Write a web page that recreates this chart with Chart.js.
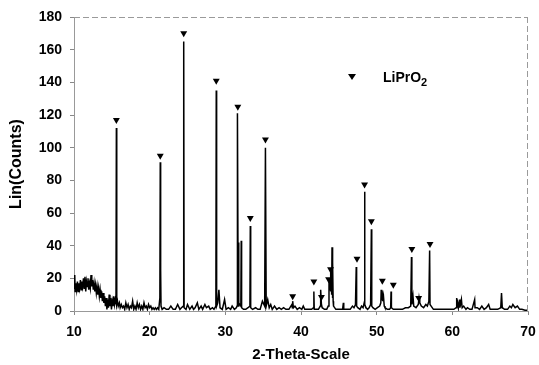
<!DOCTYPE html>
<html>
<head>
<meta charset="utf-8">
<script src="https://cdn.jsdelivr.net/npm/chart.js@4.4.1/dist/chart.umd.min.js"></script>
<style>
  body { margin: 0; background: #fff; }
  #wrap { width: 539px; height: 365px; position: relative; }
</style>
</head>
<body>
<div id="wrap"><canvas id="xrdChart"></canvas></div>
<script>
// XRD pattern (2-theta in degrees, Lin counts)
const twoTheta = [
  10.0, 10.1, 10.15, 10.25, 10.35, 10.45, 10.55, 10.65, 10.75, 10.85, 10.95, 11.05, 11.15, 11.25, 11.35, 11.45,
  11.55, 11.65, 11.75, 11.85, 11.95, 12.05, 12.15, 12.25, 12.35, 12.45, 12.55, 12.65, 12.75, 12.85, 12.95, 13.05,
  13.15, 13.25, 13.35, 13.45, 13.55, 13.65, 13.75, 13.85, 13.95, 14.05, 14.15, 14.25, 14.35, 14.45, 14.55, 14.65,
  14.75, 14.85, 14.95, 15.05, 15.15, 15.25, 15.35, 15.45, 15.55, 15.6, 15.65, 15.75, 15.85, 16.0, 16.1, 16.25,
  16.4, 16.55, 16.7, 16.85, 17.0, 17.15, 17.3, 17.45, 17.6, 17.75, 17.9, 18.05, 18.2, 18.35, 18.5, 18.65,
  18.8, 18.95, 19.1, 19.25, 19.4, 19.55, 19.7, 19.85, 20.0, 20.15, 20.3, 20.45, 20.6, 20.75, 20.9, 21.05,
  21.2, 21.35, 21.4, 21.45, 21.5, 21.65, 21.9, 22.2, 22.5, 22.8, 23.1, 23.4, 23.7, 24.0, 24.2, 24.45,
  24.5, 24.55, 24.8, 25.0, 25.3, 25.6, 25.8, 26.0, 26.3, 26.5, 26.8, 27.0, 27.3, 27.5, 27.8, 28.0,
  28.3, 28.5, 28.75, 28.8, 28.85, 29.0, 29.15, 29.3, 29.6, 29.9, 30.1, 30.4, 30.7, 30.9, 31.2, 31.45,
  31.55, 31.6, 31.7, 31.75, 31.8, 32.05, 32.1, 32.15, 32.4, 32.7, 33.0, 33.25, 33.3, 33.35, 33.6, 34.0,
  34.3, 34.6, 34.9, 35.2, 35.3, 35.4, 35.6, 35.8, 36.0, 36.2, 36.5, 36.8, 37.1, 37.4, 37.7, 38.0,
  38.4, 38.8, 38.85, 38.9, 39.0, 39.2, 39.5, 39.8, 40.1, 40.3, 40.5, 40.8, 41.1, 41.4, 41.65, 41.7,
  41.75, 42.0, 42.3, 42.55, 42.6, 42.7, 42.8, 43.1, 43.4, 43.6, 43.7, 43.75, 43.8, 43.85, 43.9, 43.95,
  44.0, 44.05, 44.1, 44.15, 44.2, 44.25, 44.3, 44.6, 45.0, 45.5, 45.6, 45.65, 46.0, 46.5, 46.8, 47.0,
  47.2, 47.3, 47.35, 47.5, 47.8, 48.0, 48.2, 48.35, 48.4, 48.45, 48.6, 48.8, 49.0, 49.2, 49.3, 49.35,
  49.5, 49.8, 50.1, 50.4, 50.55, 50.6, 50.65, 50.75, 50.8, 50.9, 51.0, 51.1, 51.4, 51.7, 51.85, 51.9,
  51.95, 52.2, 52.6, 53.0, 53.4, 53.8, 54.2, 54.5, 54.6, 54.65, 54.8, 54.9, 55.2, 55.5, 55.6, 55.7,
  55.9, 56.2, 56.5, 56.7, 56.9, 57.0, 57.05, 57.2, 57.5, 57.9, 58.3, 58.8, 59.3, 59.8, 60.2, 60.5,
  60.55, 60.6, 60.7, 60.8, 60.95, 61.0, 61.2, 61.3, 61.5, 61.8, 62.0, 62.3, 62.6, 62.95, 63.0, 63.3,
  63.6, 63.9, 64.2, 64.5, 64.8, 65.0, 65.5, 66.0, 66.4, 66.5, 66.6, 66.9, 67.3, 67.6, 67.8, 68.0,
  68.3, 68.6, 68.9, 69.2, 69.6, 70.0
];
const counts = [
  14, 22, 12, 17, 13, 18, 12, 17, 14, 19, 13, 18, 15, 20, 14, 21,
  12, 18, 15, 20, 13, 17, 14, 22, 15, 19, 13, 17, 12, 16, 11, 15,
  10, 14, 9, 13, 8, 12, 6, 11, 5, 9, 3, 8, 1, 7, 2, 10,
  3, 8, 1, 6, 3, 9, 4, 7, 5, 112, 4, 6, 3, 5, 2, 4,
  2, 3, 1, 5, 2, 4, 1, 3, 2, 6, 1, 3, 1, 5, 2, 4,
  1, 3, 1, 5, 2, 3, 1, 4, 2, 3, 1, 2, 1, 2, 1, 2,
  1, 8, 91, 25, 3, 1, 2, 1, 1, 3, 1, 1, 4, 1, 2, 3,
  165, 2, 1, 4, 1, 3, 1, 2, 5, 1, 3, 1, 4, 2, 3, 1,
  2, 1, 3, 135, 3, 5, 13, 2, 1, 7, 1, 2, 1, 3, 1, 2,
  3, 121, 3, 42, 5, 3, 43, 2, 1, 1, 2, 3, 52, 2, 1, 2,
  1, 1, 6, 3, 100, 3, 7, 2, 4, 1, 3, 1, 2, 1, 2, 1,
  1, 4, 2, 6, 2, 3, 1, 2, 1, 3, 1, 1, 1, 1, 2, 12,
  1, 1, 1, 3, 13, 4, 2, 1, 1, 3, 18, 14, 20, 15, 26, 12,
  22, 10, 39, 8, 30, 6, 3, 1, 1, 1, 5, 1, 1, 1, 3, 2,
  4, 27, 3, 2, 1, 3, 2, 5, 73, 4, 2, 1, 2, 4, 50, 3,
  2, 1, 2, 3, 5, 13, 8, 10, 6, 9, 3, 2, 1, 1, 2, 12,
  2, 1, 1, 1, 1, 2, 2, 3, 33, 4, 9, 3, 2, 4, 8, 5,
  3, 2, 4, 3, 6, 37, 4, 3, 1, 1, 1, 1, 1, 1, 1, 2,
  8, 2, 5, 2, 7, 2, 7, 2, 3, 1, 2, 1, 1, 7, 2, 2,
  1, 3, 1, 2, 4, 1, 1, 1, 2, 11, 2, 1, 1, 3, 2, 4,
  2, 3, 1, 1, 0.5, 0.5
];

// LiPrO2 reflection markers (triangles above the peaks)
const markerTheta = [15.6, 21.4, 24.5, 28.8, 31.65, 33.3, 35.3, 38.9, 41.7, 42.7, 43.65, 43.9, 47.4, 48.4, 49.3, 50.75, 52.2, 54.65, 55.55, 57.05];
const markerCounts = [117, 95, 170, 141, 125, 57, 105, 9, 18, 8.5, 19.5, 25.5, 32, 77.5, 55, 18.5, 16, 38, 8, 41];

const xTicks = [10, 20, 30, 40, 50, 60, 70];
const yTicks = [0, 20, 40, 60, 80, 100, 120, 140, 160, 180];

const fontFamily = "'Liberation Sans', Arial, sans-serif";
const tickFont = { family: fontFamily, size: 14, weight: "bold" };

// dashed frame + in-plot legend
const framePlugin = {
  id: "frame",
  afterDraw(chart) {
    const { ctx, chartArea: a } = chart;
    ctx.save();
    ctx.strokeStyle = "#9a9a9a";
    ctx.lineWidth = 1;
    ctx.setLineDash([6, 3]);
    ctx.beginPath();
    ctx.moveTo(a.left, a.top + 0.5);
    ctx.lineTo(a.right, a.top + 0.5);
    ctx.moveTo(a.right - 0.5, a.top);
    ctx.lineTo(a.right - 0.5, a.bottom);
    ctx.stroke();
    ctx.setLineDash([]);

    // legend
    const lx = a.left + 278;
    const ly = a.top + 60;
    ctx.fillStyle = "#000";
    ctx.beginPath();
    ctx.moveTo(lx - 4, ly - 3);
    ctx.lineTo(lx + 4, ly - 3);
    ctx.lineTo(lx, ly + 3);
    ctx.closePath();
    ctx.fill();
    ctx.font = "bold 14px " + fontFamily;
    ctx.textBaseline = "middle";
    ctx.textAlign = "left";
    ctx.fillText("LiPrO", lx + 31, ly + 1);
    const w = ctx.measureText("LiPrO").width;
    ctx.font = "bold 11px " + fontFamily;
    ctx.fillText("2", lx + 31 + w, ly + 6);
    ctx.restore();
  },
};

new Chart(document.getElementById("xrdChart"), {
  type: "line",
  data: {
    datasets: [
      {
        label: "pattern",
        data: twoTheta.map((t, i) => ({ x: t, y: counts[i] })),
        borderColor: "#000",
        borderWidth: 1.5,
        pointRadius: 0,
        tension: 0,
        order: 2,
      },
      {
        label: "LiPrO2",
        type: "scatter",
        data: markerTheta.map((t, i) => ({ x: t, y: markerCounts[i] })),
        pointStyle: "triangle",
        rotation: 180,
        pointRadius: 4,
        backgroundColor: "#000",
        borderColor: "#000",
        borderWidth: 0,
        order: 1,
      },
    ],
  },
  options: {
    responsive: true,
    maintainAspectRatio: false,
    animation: false,
    layout: { padding: { left: 0, right: 11, top: 17, bottom: 0 } },
    plugins: {
      legend: { display: false },
      tooltip: { enabled: false },
    },
    scales: {
      x: {
        type: "linear",
        min: 10,
        max: 70,
        afterBuildTicks: (scale) => {
          scale.ticks = xTicks.map((v) => ({ value: v }));
        },
        afterFit: (scale) => {
          scale.height = 54;
          scale.paddingLeft = 0;
          scale.paddingRight = 0;
        },
        grid: { display: true, drawOnChartArea: false, tickLength: 4, color: "#888" },
        border: { display: true, color: "#999", dash: [5, 3] },
        ticks: { color: "#000", font: tickFont, padding: 9, maxRotation: 0 },
        title: {
          display: true,
          text: "2-Theta-Scale",
          color: "#000",
          font: { family: fontFamily, size: 15, weight: "bold" },
          padding: { top: 2, bottom: 1 },
        },
      },
      y: {
        type: "linear",
        min: 0,
        max: 180,
        afterBuildTicks: (scale) => {
          scale.ticks = yTicks.map((v) => ({ value: v }));
        },
        afterFit: (scale) => {
          scale.width = 74;
        },
        grid: { display: true, drawOnChartArea: false, tickLength: 4, color: "#888" },
        border: { display: true, color: "#999", dash: [5, 3] },
        ticks: { color: "#000", font: tickFont, padding: 8 },
        title: {
          display: true,
          text: "Lin(Counts)",
          color: "#000",
          font: { family: fontFamily, size: 16, weight: "bold" },
          padding: { top: 7, bottom: 0 },
        },
      },
    },
  },
  plugins: [framePlugin],
});
</script>
</body>
</html>
